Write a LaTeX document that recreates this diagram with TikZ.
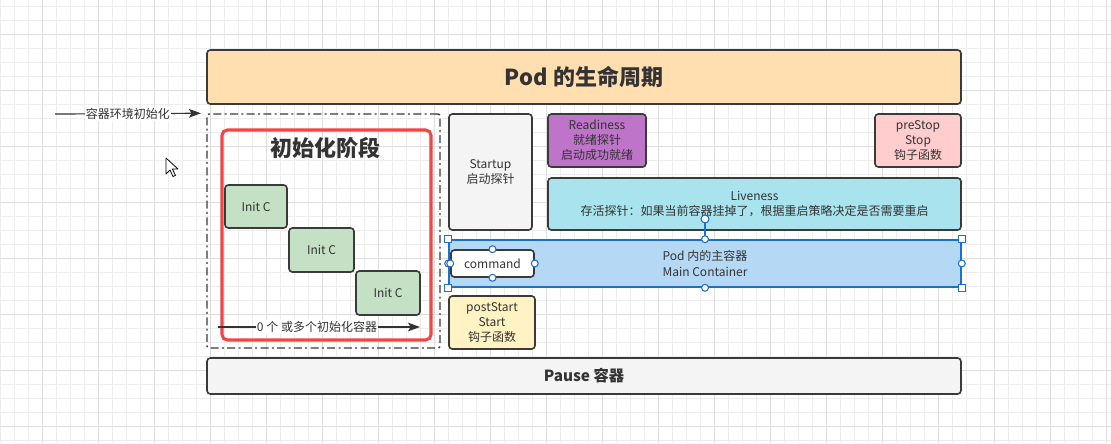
\documentclass[tikz,border=0pt]{standalone}
\usepackage{fontspec}
\setmainfont{Noto Sans CJK SC}
\usetikzlibrary{arrows.meta}
\newdimen\pxu \pxu=0.75pt
\definecolor{txt}{HTML}{333333}
\definecolor{edge}{HTML}{3A3A3A}
\definecolor{gridmin}{HTML}{EDEDED}
\definecolor{gridmaj}{HTML}{DEDEDE}
\definecolor{titlefill}{HTML}{FFDFB0}
\definecolor{initfill}{HTML}{C4E1C6}
\definecolor{greyfill}{HTML}{F4F4F4}
\definecolor{readyfill}{HTML}{BE74C9}
\definecolor{stopfill}{HTML}{FFCDCD}
\definecolor{livefill}{HTML}{A9E3EE}
\definecolor{mainfill}{HTML}{B5D8F5}
\definecolor{startfill}{HTML}{FFF3C4}
\definecolor{stagered}{HTML}{F44444}
\definecolor{selblue}{HTML}{1F6FC5}

\begin{document}
\begin{tikzpicture}[x=0.75pt, y=-0.75pt,
  box/.style={draw=edge, line width=1.2pt, rounded corners=2.5pt, inner sep=0pt,
    text=txt, align=center, font=\fontsize{9}{11.25}\selectfont},
  big/.style={text=txt, font=\fontsize{16.5}{19}\selectfont\bfseries},
  arr/.style={draw=txt, line width=0.9pt, -{Stealth[length=9pt, width=6.5pt, inset=2pt]}},
  tag/.style={fill=white, inner sep=1pt, text=txt, font=\fontsize{9}{11}\selectfont},
  handle/.style={draw=selblue, fill=white, line width=0.8pt}]

%grid
\useasboundingbox (0,0) rectangle (1111,443);
\fill[white] (0,0) rectangle (1111,443);
\foreach \g in {0,...,79} \draw[gridmin, line width=0.75pt] (0.7+14*\g,0) -- (0.7+14*\g,443);
\foreach \g in {0,...,31} \draw[gridmin, line width=0.75pt] (0,6.7+14*\g) -- (1111,6.7+14*\g);
\foreach \g in {0,...,19} \draw[gridmaj, line width=0.75pt] (42.7+56*\g,0) -- (42.7+56*\g,443);
\foreach \g in {0,...,7} \draw[gridmaj, line width=0.75pt] (0,34.7+56*\g) -- (1111,34.7+56*\g);

%title and pause
\node[box, fill=titlefill, minimum width=754\pxu, minimum height=54\pxu, big] (title) at (584,77) {Pod 的生命周期};
\node[box, fill=greyfill, minimum width=754\pxu, minimum height=36\pxu,
  font=\fontsize{11.5}{14}\selectfont\bfseries] (pause) at (584,376) {Pause 容器};

%init stage
\node[draw=edge, line width=1.1pt, rounded corners=1.5pt, inner sep=0pt,
  dash pattern=on 6pt off 2.5pt on 1.5pt off 2.5pt,
  minimum width=233\pxu, minimum height=234\pxu] (initzone) at (323.5,231) {};
\node[draw=stagered, line width=2.3pt, rounded corners=4pt, inner sep=0pt,
  minimum width=209\pxu, minimum height=210\pxu] (initstage) at (326.5,235) {};
\node[big] (stagetitle) at (325,148) {初始化阶段};
\node[box, fill=initfill, minimum width=62\pxu, minimum height=43\pxu] (init1) at (256,206.5) {Init C};
\node[box, fill=initfill, minimum width=65\pxu, minimum height=44\pxu] (init2) at (321.5,250) {Init C};
\node[box, fill=initfill, minimum width=64\pxu, minimum height=44\pxu] (init3) at (388,293) {Init C};

\coordinate (envstart) at (55,114);
\draw[arr] (envstart) -- ([xshift=-4pt]initzone.north west)
  node[tag, pos=0.5] (envtag) {容器环境初始化};
\coordinate (cntstart) at (218,327);
\coordinate (cntend) at (420,327);
\draw[arr] (cntstart) -- (cntend) node[tag, pos=0.49] (cnttag) {0 个 或多个初始化容器};

%probes and hooks
\node[box, fill=greyfill, minimum width=83\pxu, minimum height=116\pxu] (startup) at (490.5,172) {Startup\\启动探针};
\node[box, fill=readyfill, minimum width=98\pxu, minimum height=53\pxu] (readiness) at (597,140.5) {Readiness\\就绪探针\\启动成功就绪};
\node[box, fill=stopfill, minimum width=86\pxu, minimum height=53\pxu] (prestop) at (918,140.5) {preStop\\Stop\\钩子函数};
\node[box, fill=livefill, minimum width=413\pxu, minimum height=52\pxu] (liveness) at (754.5,204)
  {Liveness\\存活探针：如果当前容器挂掉了，根据重启策略决定是否需要重启};
\node[box, fill=startfill, minimum width=86\pxu, minimum height=53\pxu] (poststart) at (492,322.5) {postStart\\Start\\钩子函数};

%main container (selected)
\node[box, fill=mainfill, draw=selblue, rounded corners=0pt, minimum width=512\pxu, minimum height=47\pxu,
  font=\fontsize{9}{11.5}\selectfont] (main) at (705,263.5) {Pod 内的主容器\\Main Container};
\node[box, fill=white, minimum width=83\pxu, minimum height=27\pxu] (command) at (492.5,263.5) {command};

\coordinate (rot) at (705,219);
\draw[selblue, line width=0.8pt] (main.north) -- (rot);
\filldraw[handle] (rot) circle[radius=3pt];
\foreach \a in {north west, north east, south west, south east}
  \filldraw[handle] (main.\a) +(-2.6pt,-2.6pt) rectangle +(2.6pt,2.6pt);
\foreach \a in {north, south, east, west}
  \filldraw[handle] (main.\a) circle[radius=2.6pt];
\foreach \a in {north, south, east, west}
  \filldraw[handle] (command.\a) circle[radius=2.6pt];

%cursor
\filldraw[fill=white, draw=black, line width=0.6pt, line join=round]
  (166,158) -- ++(0,16) -- ++(4,-4) -- ++(3,6.5) -- ++(2.4,-1.1) -- ++(-3,-6.4) -- ++(5.6,0) -- cycle;

\end{tikzpicture}
\end{document}
